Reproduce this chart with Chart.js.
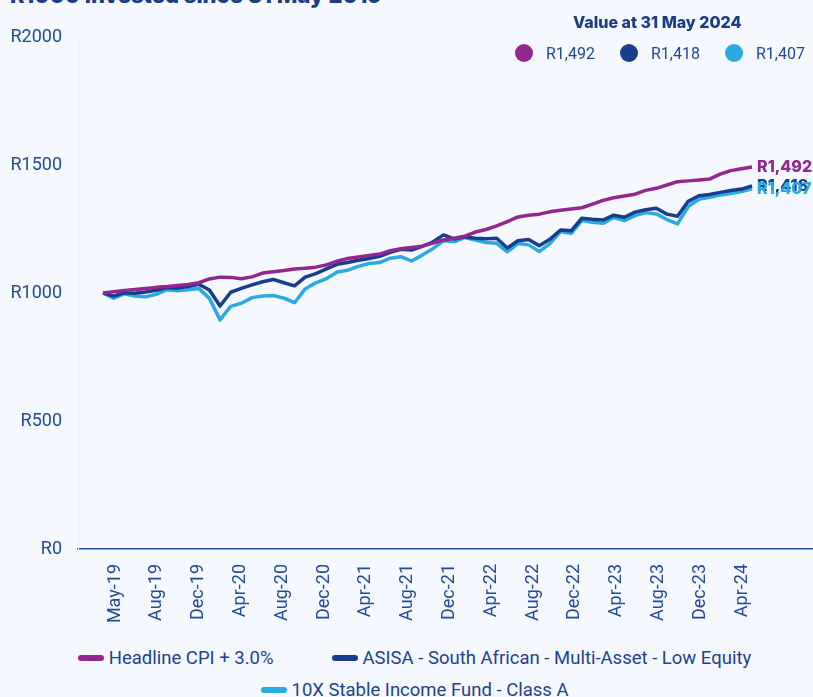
<!DOCTYPE html>
<html>
<head>
<meta charset="utf-8">
<title>R1000 invested since 31 May 2019</title>
<script src="https://cdn.jsdelivr.net/npm/chart.js@4.4.1/dist/chart.umd.min.js"></script>
<style>
  body { margin: 0; width: 813px; height: 697px; background: #F5F9FF; position: relative; overflow: hidden; font-family: Roboto, sans-serif; }
  #title { position: absolute; left: 10px; top: -16px; font: 800 22px/22px Inter, sans-serif; color: #1B3C85; white-space: nowrap; }
  #chart { position: absolute; left: 0; top: 0; }
  #valueHead { position: absolute; left: 573px; top: 12px; font: 800 16px/20px Inter, sans-serif; color: #1B3C85; white-space: nowrap; }
  .val { position: absolute; top: 44px; height: 18px; display: flex; align-items: center; font-size: 16px; color: #244894; }
  .val .dot { width: 18px; height: 18px; border-radius: 50%; margin-right: 13px; }
  #legend { position: absolute; left: 0; top: 646px; width: 829px; display: flex; flex-wrap: wrap; justify-content: center; column-gap: 58px; row-gap: 8px; }
  .item { display: flex; align-items: center; height: 24px; font-size: 18.5px; color: #1E4191; white-space: nowrap; }
  .item .bar { width: 26px; height: 6px; border-radius: 3px; margin-right: 5px; }
</style>
</head>
<body>
<div id="title">R1000 invested since 31 May 2019</div>
<canvas id="chart" width="813" height="640"></canvas>
<div id="valueHead">Value at 31 May 2024</div>
<div id="values"></div>
<div id="legend"></div>
<script>
// month-end points
const months = [
  "Apr-19", "May-19", "Jun-19", "Jul-19", "Aug-19", "Sep-19", "Oct-19", "Nov-19", "Dec-19",
  "Jan-20", "Feb-20", "Mar-20", "Apr-20", "May-20", "Jun-20", "Jul-20", "Aug-20", "Sep-20", "Oct-20", "Nov-20", "Dec-20",
  "Jan-21", "Feb-21", "Mar-21", "Apr-21", "May-21", "Jun-21", "Jul-21", "Aug-21", "Sep-21", "Oct-21", "Nov-21", "Dec-21",
  "Jan-22", "Feb-22", "Mar-22", "Apr-22", "May-22", "Jun-22", "Jul-22", "Aug-22", "Sep-22", "Oct-22", "Nov-22", "Dec-22",
  "Jan-23", "Feb-23", "Mar-23", "Apr-23", "May-23", "Jun-23", "Jul-23", "Aug-23", "Sep-23", "Oct-23", "Nov-23", "Dec-23",
  "Jan-24", "Feb-24", "Mar-24", "Apr-24", "May-24"
];

const tickLabels = ["May-19", "Aug-19", "Dec-19", "Apr-20", "Aug-20", "Dec-20", "Apr-21", "Aug-21", "Dec-21",
  "Apr-22", "Aug-22", "Dec-22", "Apr-23", "Aug-23", "Dec-23", "Apr-24"];
const yTicks = [0, 500, 1000, 1500, 2000];

const seriesNames = ["Headline CPI + 3.0%", "ASISA - South African - Multi-Asset - Low Equity", "10X Stable Income Fund - Class A"];
const seriesColors = ["#93278F", "#173D8C", "#2BA9E1"];

const cpi = [1000, 1005, 1010, 1014, 1018, 1022, 1025, 1029, 1033, 1040, 1055, 1062, 1061, 1056, 1063, 1078,
  1083, 1088, 1094, 1097, 1101, 1110, 1124, 1135, 1141, 1147, 1152, 1165, 1173, 1178, 1183, 1195,
  1207, 1214, 1222, 1238, 1248, 1262, 1279, 1297, 1304, 1308, 1317, 1323, 1328, 1333, 1347, 1362,
  1372, 1379, 1386, 1401, 1409, 1422, 1435, 1438, 1441, 1445, 1464, 1478, 1485, 1492];

const asisa = [1000, 988, 1001, 999, 1004, 1011, 1021, 1019, 1025, 1034, 1012, 949, 1003, 1018, 1032, 1044,
  1053, 1040, 1028, 1062, 1076, 1094, 1112, 1119, 1128, 1135, 1143, 1159, 1171, 1168, 1182, 1199,
  1227, 1211, 1220, 1214, 1212, 1214, 1176, 1204, 1209, 1185, 1210, 1246, 1243, 1292, 1288, 1285,
  1304, 1296, 1316, 1325, 1331, 1308, 1300, 1358, 1380, 1385, 1393, 1400, 1406, 1418];

const stable = [1000, 980, 997, 988, 985, 995, 1013, 1009, 1013, 1018, 979, 895, 948, 960, 982, 988,
  990, 980, 962, 1016, 1040, 1056, 1082, 1089, 1104, 1115, 1119, 1136, 1142, 1125, 1148, 1173,
  1204, 1200, 1217, 1207, 1197, 1194, 1161, 1193, 1188, 1162, 1193, 1240, 1233, 1283, 1276, 1272,
  1295, 1283, 1302, 1314, 1309, 1287, 1270, 1338, 1366, 1374, 1383, 1389, 1396, 1407];

const seriesValues = [cpi, asisa, stable];

// tick spacing along the month axis (labels sit roughly every 4 months)
const tickStart = 1.13;
const tickStep = 3.93;

const fmt = v => "R" + v.toLocaleString("en-US");
const axisBlue = "#264A96";

// top-right values and bottom legend
const valuesBox = document.getElementById("values");
const legendBox = document.getElementById("legend");
seriesNames.forEach((name, i) => {
  const vals = seriesValues[i];
  const v = document.createElement("div");
  v.className = "val";
  v.style.left = (515 + i * 105) + "px";
  v.innerHTML = '<span class="dot" style="background:' + seriesColors[i] + '"></span>' + fmt(vals[vals.length - 1]);
  valuesBox.appendChild(v);

  const it = document.createElement("div");
  it.className = "item";
  it.innerHTML = '<span class="bar" style="background:' + seriesColors[i] + '"></span>' + name;
  legendBox.appendChild(it);
});

// value labels at the end of each line
const endLabels = {
  id: "endLabels",
  afterDatasetsDraw(chart) {
    const ctx = chart.ctx;
    ctx.save();
    ctx.font = "800 16px Inter, sans-serif";
    ctx.textBaseline = "middle";
    ctx.textAlign = "left";
    chart.data.datasets.forEach((ds, i) => {
      const pts = chart.getDatasetMeta(i).data;
      const last = pts[pts.length - 1];
      ctx.fillStyle = ds.borderColor;
      ctx.fillText(fmt(seriesValues[i][seriesValues[i].length - 1]), last.x + 5, last.y);
    });
    ctx.restore();
  }
};

new Chart(document.getElementById("chart"), {
  type: "line",
  data: {
    datasets: seriesNames.map((name, i) => ({
      label: name,
      data: seriesValues[i].map((v, k) => ({ x: k, y: v, month: months[k] })),
      borderColor: seriesColors[i],
      backgroundColor: seriesColors[i],
      borderWidth: 3.5,
      borderJoinStyle: "round",
      pointRadius: 0,
      fill: false,
      tension: 0
    }))
  },
  options: {
    responsive: false,
    animation: false,
    devicePixelRatio: 1,
    layout: { padding: { top: 37, right: 0, bottom: 0, left: 0 } },
    plugins: {
      legend: { display: false },
      tooltip: { enabled: false }
    },
    scales: {
      x: {
        type: "linear",
        min: -2.35,
        max: 66.73,
        afterBuildTicks: s => { s.ticks = tickLabels.map((_, k) => ({ value: tickStart + k * tickStep })); },
        afterFit: s => { s.height = 91; },
        grid: { color: "transparent", drawTicks: false },
        border: { color: "#2A4E9E", width: 1.5 },
        ticks: {
          autoSkip: false,
          maxRotation: 90,
          minRotation: 90,
          padding: 15,
          color: axisBlue,
          font: { family: "Roboto", size: 18 },
          callback: (v, i) => tickLabels[i]
        }
      },
      y: {
        min: 0,
        max: 2000,
        afterBuildTicks: s => { s.ticks = yTicks.map(v => ({ value: v })); },
        afterFit: s => { s.width = 78; },
        grid: { color: "transparent", drawTicks: false },
        border: { color: "#E6ECF7", width: 1 },
        ticks: {
          padding: 16,
          color: axisBlue,
          font: { family: "Roboto", size: 18 },
          callback: v => "R" + v
        }
      }
    }
  },
  plugins: [endLabels]
});
</script>
</body>
</html>
